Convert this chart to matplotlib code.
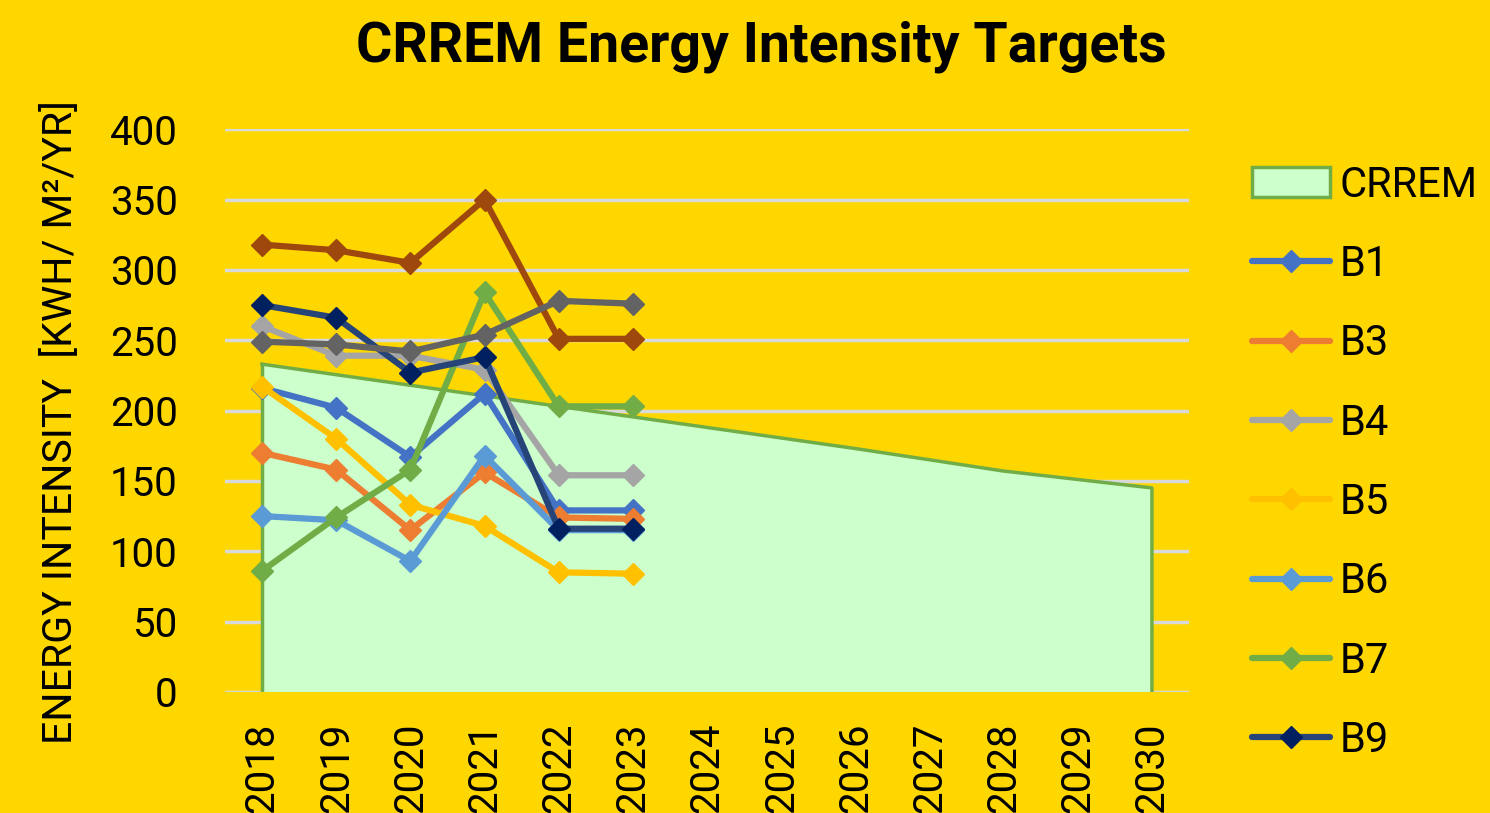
import matplotlib.pyplot as plt
from matplotlib.patches import Patch

# ======================
# DATA
# ======================
years = [2018, 2019, 2020, 2021, 2022, 2023, 2024, 2025, 2026, 2027, 2028, 2029, 2030]
crrem = [233, 225.5, 218, 210.5, 203, 195.5, 188, 180.5, 173, 165, 157, 151, 145]

b_years = [2018, 2019, 2020, 2021, 2022, 2023]
b1 = [216, 202, 167, 212, 129, 129]
b3 = [170, 158, 115, 156, 124, 123]
b4 = [260, 239, 239, 229, 154, 154]
b5 = [217, 180, 133, 118, 85, 84]
b6 = [125, 122, 93, 168, 115, 115]
b7 = [86, 124, 158, 284, 203, 203]
b9 = [275, 266, 227, 238, 116, 116]
b_brown = [318, 314, 305, 350, 251, 251]
b_dgray = [249, 247, 242, 254, 278, 276]

series = [
    ("B1", b1, "#4472C4", "#4472C4"),
    ("B3", b3, "#ED7D31", "#ED7D31"),
    ("B4", b4, "#A5A5A5", "#A5A5A5"),
    ("B5", b5, "#FFC000", "#FFC000"),
    ("B6", b6, "#5B9BD5", "#5B9BD5"),
    ("B7", b7, "#70AD47", "#70AD47"),
    ("B9", b9, "#264478", "#002060"),
    ("_nolegend_", b_brown, "#9E480E", "#9E480E"),
    ("_nolegend_", b_dgray, "#636363", "#636363"),
]

BG = "#FFD700"
FONT = "Roboto"

# ======================
# PLOT
# ======================
fig = plt.figure(figsize=(14.9, 8.13), dpi=100, facecolor=BG)
ax = fig.add_axes([0.151, 0.149, 0.647, 0.692])
ax.set_facecolor(BG)

ax.fill_between(years, crrem, 0, facecolor="#CCFFCC", edgecolor="none", zorder=2)
ax.plot(years + [years[-1]], crrem + [0], color="#70AD47", lw=2.5, zorder=2.5)
ax.plot([years[0], years[0]], [0, crrem[0]], color="#70AD47", lw=2.5, zorder=2.5)

handles = [Patch(facecolor="#CCFFCC", edgecolor="#70AD47", linewidth=2.5, label="CRREM")]
for name, vals, col, mcol in series:
    ln, = ax.plot(b_years, vals, color=col, lw=4.5, marker="D", ms=11,
                  markerfacecolor=mcol, markeredgecolor=mcol, solid_capstyle="round",
                  zorder=3, label=name)
    if not name.startswith("_"):
        handles.append(ln)

ax.set_xlim(2017.5, 2030.5)
ax.set_ylim(0, 400)
ax.set_yticks(range(0, 401, 50))
ax.set_xticks(years)
ax.set_xticklabels([str(y) for y in years], rotation=90, va="top")
ax.grid(axis="y", color="#D9D9D9", lw=2.5, zorder=1)
ax.set_axisbelow(True)
for s in ax.spines.values():
    s.set_visible(False)
ax.tick_params(length=0, labelsize=29)
ax.tick_params(axis="x", pad=22)
ax.tick_params(axis="y", pad=34)
for lbl in ax.get_xticklabels() + ax.get_yticklabels():
    lbl.set_fontfamily(FONT)

ax.set_ylabel("ENERGY INTENSITY  [KWH/ M²/YR]", fontsize=29.5, family=FONT)
ax.yaxis.set_label_coords(-0.15, 0.48)

fig.text(0.511, 0.943, "CRREM Energy Intensity Targets", ha="center", va="center",
         fontsize=40, fontweight="bold", family=FONT)

ax.legend(handles=handles, loc="upper left", bbox_to_anchor=(0.829, 0.818),
          bbox_transform=fig.transFigure, frameon=False,
          prop={"family": FONT, "size": 30}, labelspacing=0.92,
          handlelength=1.87, handletextpad=0.24, borderaxespad=0)

fig.savefig("out.png", dpi=100, facecolor=BG)
